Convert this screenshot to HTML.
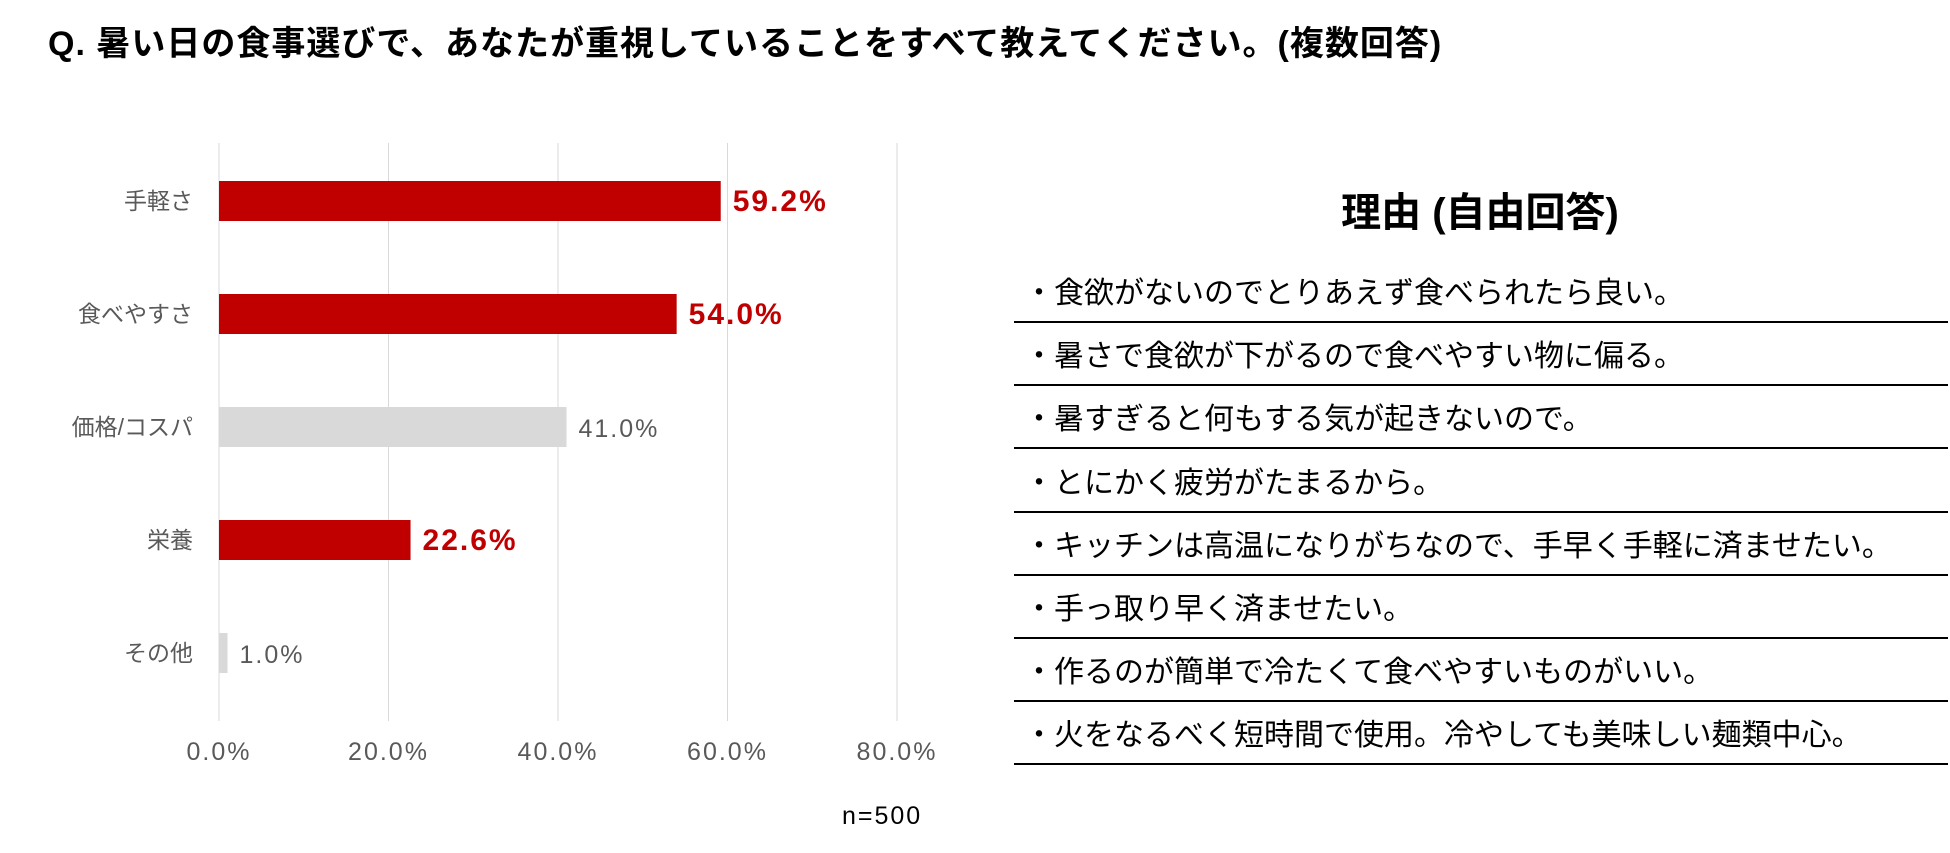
<!DOCTYPE html>
<html><head><meta charset="utf-8">
<style>
body{margin:0;width:1950px;height:853px;background:#fff;overflow:hidden;font-family:"Liberation Sans","Noto Sans CJK JP",sans-serif;}
.t{position:absolute;white-space:nowrap}
</style></head><body>
<div class="t" style="left:48px;top:16px;font-size:34px;letter-spacing:1px;font-weight:bold;color:#000">Q. 暑い日の食事選びで、あなたが重視していることをすべて教えてください。(複数回答)</div>
<svg id="chart" width="1000" height="853" style="position:absolute;left:0;top:0"></svg>
<div class="t" style="left:842px;top:802px;font-size:25px;letter-spacing:2px;color:#000">n=500</div>
<div class="t" style="left:1480px;top:180px;transform:translateX(-50%);font-size:40px;font-weight:bold;color:#000">理由 (自由回答)</div>
<div id="reasons"></div>
<script>
const categories=["手軽さ","食べやすさ","価格/コスパ","栄養","その他"];
const values=[59.2,54.0,41.0,22.6,1.0];
const highlight=[true,true,false,true,false];
const ticks=[0,20,40,60,80];
const reasons=["・食欲がないのでとりあえず食べられたら良い。","・暑さで食欲が下がるので食べやすい物に偏る。","・暑すぎると何もする気が起きないので。","・とにかく疲労がたまるから。","・キッチンは高温になりがちなので、手早く手軽に済ませたい。","・手っ取り早く済ませたい。","・作るのが簡単で冷たくて食べやすいものがいい。","・火をなるべく短時間で使用。冷やしても美味しい麺類中心。"];
const NS="http://www.w3.org/2000/svg";
const svg=document.getElementById('chart');
const x=v=>219+v*(897-219)/80;
const y=i=>201+i*113;
function mk(t,a,txt){const e=document.createElementNS(NS,t);for(const k in a)e.setAttribute(k,a[k]);if(txt!==undefined)e.textContent=txt;svg.appendChild(e);return e;}
ticks.forEach(t=>{
 const g=mk('line',{x1:x(t),x2:x(t),y1:143,y2:721,stroke:'#d9d9d9','stroke-width':1});
 
 
 const l=mk('text',{x:x(t),y:760,'text-anchor':'middle','font-size':25,'letter-spacing':2,fill:'#595959','font-family':'Liberation Sans, sans-serif'},t.toFixed(1)+'%');
 
 
});
categories.forEach((c,i)=>{
 const cy=y(i);
 const b=mk('rect',{x:x(0),y:cy-20,width:x(values[i])-x(0),height:40,fill:highlight[i]?'#c00000':'#d9d9d9'});
 
 
 const cl=mk('text',{x:193,y:cy+8,'text-anchor':'end','font-size':23,fill:'#595959','font-family':'Liberation Sans, Noto Sans CJK JP, sans-serif'},c);
 
 
 const vl=mk('text',{x:x(values[i])+12,y:cy+10,'font-size':highlight[i]?30:25,'letter-spacing':highlight[i]?2:2,'font-weight':highlight[i]?'bold':'normal',fill:highlight[i]?'#c00000':'#595959','font-family':'Liberation Sans, sans-serif'},values[i].toFixed(1)+'%');
 
 
});
const rc=document.getElementById('reasons');
reasons.forEach((r,i)=>{
 const top=259+i*63.2;
 const d=document.createElement('div');
 
 
 d.className='t';
 d.style.cssText=`left:1024px;top:${top+9}px;font-size:30px;color:#000`;
 d.textContent=r;rc.appendChild(d);
 const ln=document.createElement('div');
 
 
 ln.style.cssText=`position:absolute;left:1014px;width:934px;top:${top+62}px;height:2px;background:#000`;
 rc.appendChild(ln);
});
</script>
</body></html>
